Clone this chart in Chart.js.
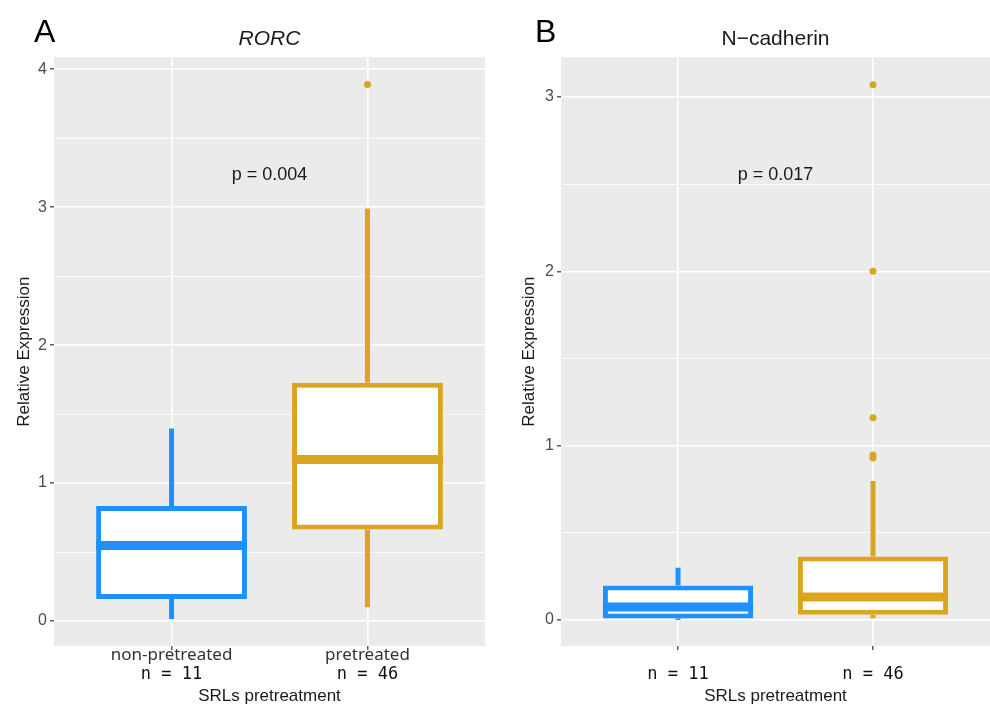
<!DOCTYPE html>
<html>
<head>
<meta charset="utf-8">
<title>RORC and N-cadherin expression</title>
<script src="https://cdn.jsdelivr.net/npm/chart.js@4.4.1/dist/chart.umd.min.js"></script>
<style>
    html, body { margin: 0; padding: 0; background: #fff; }
    body { width: 990px; height: 713px; position: relative; overflow: hidden; font-family: "Liberation Sans", Arial, sans-serif; }
    .panel { position: absolute; top: 0; width: 495px; height: 713px; }
    #panelA { left: 0; }
    #panelB { left: 495px; }
    .tag { position: absolute; top: 15px; font-size: 32px; line-height: 1; color: #000; }
</style>
</head>
<body>
<div class="panel" id="panelA"><canvas id="chartA"></canvas></div>
<div class="panel" id="panelB"><canvas id="chartB"></canvas></div>
<div class="tag" style="left:34px">A</div>
<div class="tag" style="left:535px">B</div>
<script>
// Group names and counts under each box
const groupsA = ['non-pretreated', 'pretreated'];
const groupsB = ['', ''];
const countLabels = ['n = 11', 'n = 46'];

// Box stats per group: [lower whisker, Q1, median, Q3, upper whisker]
const rorcNonPre = [0.014, 0.16, 0.547, 0.833, 1.396];
const rorcPre = [0.10, 0.663, 1.17, 1.728, 2.99];
const rorcOutNonPre = [];
const rorcOutPre = [3.89];

const ncadNonPre = [0.0, 0.009, 0.075, 0.198, 0.30];
const ncadPre = [0.01, 0.03, 0.132, 0.364, 0.797];
const ncadOutNonPre = [];
const ncadOutPre = [0.929, 0.946, 1.16, 2.0, 3.07];

// p-value labels and where they sit (data units)
const pTextA = 'p = 0.004';
const pTextB = 'p = 0.017';
const pPosA = [1.5, 3.232];
const pPosB = [1.5, 2.551];

// Axis ranges (ggplot expansion)
const yRangeA = [-0.181, 4.087];
const yRangeB = [-0.149, 3.228];
const xRange = [0.4, 2.6];

const BLUE = '#1E90FF';
const GOLD = '#DAA520';
const BOX_WIDTH = 0.77;

// Grey panel background behind the grid
const panelBg = {
    id: 'panelBg',
    beforeDraw(chart) {
        const {ctx, chartArea} = chart;
        ctx.save();
        ctx.fillStyle = '#EBEBEB';
        ctx.fillRect(chartArea.left, chartArea.top, chartArea.right - chartArea.left, chartArea.bottom - chartArea.top);
        ctx.restore();
    }
};

// p-value text placed with the chart's scales
const pLabel = {
    id: 'pLabel',
    afterDatasetsDraw(chart, args, opts) {
        const {ctx, scales} = chart;
        ctx.save();
        ctx.font = '18px "Liberation Sans", Arial, sans-serif';
        ctx.fillStyle = '#1a1a1a';
        ctx.textAlign = 'center';
        ctx.textBaseline = 'middle';
        ctx.fillText(opts.text, scales.x.getPixelForValue(opts.pos[0]), scales.y.getPixelForValue(opts.pos[1]));
        ctx.restore();
    }
};

function isWhole(v) {
    return Math.abs(v - Math.round(v)) < 1e-6;
}

function boxDatasets(stats, outliers, colors) {
    const ds = [{
        type: 'bar',
        data: stats.map((s, i) => ({x: i + 1, y: [s[1], s[3]]})),
        backgroundColor: '#ffffff',
        borderColor: colors,
        borderWidth: 5,
        borderSkipped: false,
        barPercentage: BOX_WIDTH,
        categoryPercentage: 1,
        order: 3
    }];
    stats.forEach((s, i) => {
        const g = i + 1;
        // whiskers
        ds.push({
            type: 'line',
            data: [{x: g, y: s[0]}, {x: g, y: s[1]}, {x: g, y: null}, {x: g, y: s[3]}, {x: g, y: s[4]}],
            borderColor: colors[i],
            borderWidth: 5,
            pointRadius: 0,
            spanGaps: false,
            order: 2
        });
        // median
        ds.push({
            type: 'line',
            data: [{x: g - BOX_WIDTH / 2, y: s[2]}, {x: g + BOX_WIDTH / 2, y: s[2]}],
            borderColor: colors[i],
            borderWidth: 9,
            pointRadius: 0,
            order: 1
        });
        // outliers
        ds.push({
            type: 'scatter',
            data: outliers[i].map(v => ({x: g, y: v})),
            backgroundColor: colors[i],
            borderWidth: 0,
            pointRadius: 3.5,
            order: 0
        });
    });
    return ds;
}

function makeChart(canvasId, cfg) {
    const tickSetter = s => { s.ticks = cfg.groups.map((g, i) => ({value: i + 1})); };
    return new Chart(document.getElementById(canvasId), {
        type: 'bar',
        data: { datasets: boxDatasets(cfg.stats, cfg.outliers, [BLUE, GOLD]) },
        plugins: [panelBg, pLabel],
        options: {
            responsive: true,
            maintainAspectRatio: false,
            animation: false,
            events: [],
            layout: { autoPadding: false, padding: { left: 0, right: cfg.padRight, top: 0, bottom: 0 } },
            plugins: {
                legend: { display: false },
                tooltip: { enabled: false },
                title: {
                    display: true,
                    text: cfg.title,
                    fullSize: false,
                    color: '#1a1a1a',
                    font: { family: '"Liberation Sans", Arial, sans-serif', size: 21, style: cfg.titleStyle, weight: 'normal' },
                    padding: { top: 27, bottom: 5 }
                },
                pLabel: { text: cfg.pText, pos: cfg.pPos }
            },
            scales: {
                x: {
                    type: 'linear',
                    position: 'bottom',
                    weight: 0,
                    min: xRange[0],
                    max: xRange[1],
                    offset: false,
                    afterBuildTicks: tickSetter,
                    ticks: {
                        callback: (v, i) => cfg.groups[i],
                        autoSkip: false,
                        maxRotation: 0,
                        padding: -3.5,
                        color: '#333333',
                        font: { family: '"Noto Sans", sans-serif', size: 17, lineHeight: 1 }
                    },
                    grid: { color: '#ffffff', lineWidth: 1.6, offset: false, tickColor: '#333333', tickLength: 4, tickWidth: 1.2 },
                    border: { display: false },
                    afterFit: s => { s.height = 18; }
                },
                x2: {
                    type: 'linear',
                    position: 'bottom',
                    weight: 1,
                    min: xRange[0],
                    max: xRange[1],
                    offset: false,
                    afterBuildTicks: tickSetter,
                    ticks: {
                        callback: (v, i) => countLabels[i],
                        autoSkip: false,
                        maxRotation: 0,
                        padding: 2,
                        color: '#111111',
                        font: { family: '"DejaVu Sans Mono", monospace', size: 17, lineHeight: 1 }
                    },
                    grid: { display: false, drawTicks: false },
                    border: { display: false },
                    title: {
                        display: true,
                        text: 'SRLs pretreatment',
                        color: '#1a1a1a',
                        font: { family: '"Liberation Sans", Arial, sans-serif', size: 17 },
                        padding: { top: 0, bottom: 6 }
                    },
                    afterFit: s => { s.height = 49; }
                },
                y: {
                    min: cfg.yRange[0],
                    max: cfg.yRange[1],
                    ticks: {
                        stepSize: 0.5,
                        includeBounds: false,
                        autoSkip: false,
                        padding: 3,
                        color: '#4d4d4d',
                        font: { family: '"Liberation Sans", Arial, sans-serif', size: 16 },
                        callback: v => isWhole(v) ? String(Math.round(v)) : ''
                    },
                    grid: {
                        color: '#ffffff',
                        lineWidth: c => isWhole(c.tick.value) ? 1.6 : 0.8,
                        tickColor: c => isWhole(c.tick.value) ? '#333333' : 'rgba(0,0,0,0)',
                        tickLength: 4,
                        tickWidth: 1.2
                    },
                    border: { display: false },
                    title: {
                        display: true,
                        text: 'Relative Expression',
                        color: '#1a1a1a',
                        font: { family: '"Liberation Sans", Arial, sans-serif', size: 17 },
                        padding: { top: cfg.yTitlePad }
                    },
                    afterFit: s => { s.width = cfg.yWidth; }
                }
            }
        }
    });
}

makeChart('chartA', {
    groups: groupsA,
    stats: [rorcNonPre, rorcPre],
    outliers: [rorcOutNonPre, rorcOutPre],
    title: 'RORC',
    titleStyle: 'italic',
    pText: pTextA,
    pPos: pPosA,
    yRange: yRangeA,
    yWidth: 54,
    yTitlePad: 14,
    padRight: 10
});

makeChart('chartB', {
    groups: groupsB,
    stats: [ncadNonPre, ncadPre],
    outliers: [ncadOutNonPre, ncadOutPre],
    title: 'N\u2212cadherin',
    titleStyle: 'normal',
    pText: pTextB,
    pPos: pPosB,
    yRange: yRangeB,
    yWidth: 66,
    yTitlePad: 24,
    padRight: 0
});
</script>
</body>
</html>
